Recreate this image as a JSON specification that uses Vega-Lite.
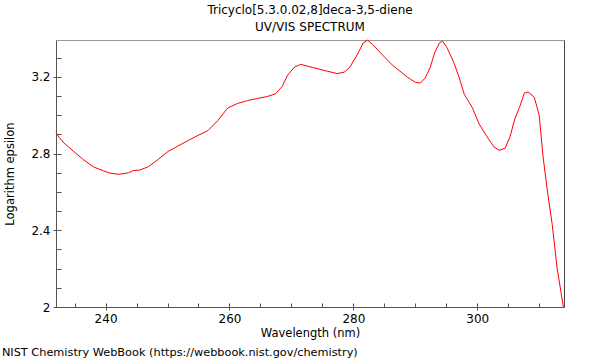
{
  "$schema": "https://vega.github.io/schema/vega-lite/v6.json",
  "background": "white",
  "padding": {"left": 1, "top": 4, "right": 30, "bottom": 2},
  "title": {"text": "NIST Chemistry WebBook (https://webbook.nist.gov/chemistry)", "orient": "bottom", "anchor": "start", "frame": "bounds", "font": "DejaVu Sans", "fontSize": 11.3, "fontWeight": "normal", "color": "black", "offset": 8, "dx": -3},
  "config": {
    "view": {"stroke": null},
    "axis": {"labelFont": "DejaVu Sans", "labelFontSize": 12, "labelColor": "black", "titleFont": "DejaVu Sans", "titleFontSize": 11.5, "titleFontWeight": "normal", "titleColor": "black", "domainColor": "#555", "tickColor": "#555", "grid": false}
  },
  "vconcat": [
    {
      "title": {"text": ["Tricyclo[5.3.0.02,8]deca-3,5-diene", "UV/VIS SPECTRUM"], "anchor": "middle", "frame": "group", "font": "DejaVu Sans", "fontSize": 12, "fontWeight": "normal", "color": "black", "lineHeight": 17, "offset": 4},
      "width": 508,
      "height": 267,
      "data": {"values": [
        {"wavelength": 232.0, "logeps": 2.91},
        {"wavelength": 232.5, "logeps": 2.885},
        {"wavelength": 233.3, "logeps": 2.855},
        {"wavelength": 234.9, "logeps": 2.81},
        {"wavelength": 236.5, "logeps": 2.767},
        {"wavelength": 238.1, "logeps": 2.73},
        {"wavelength": 239.7, "logeps": 2.71},
        {"wavelength": 240.5, "logeps": 2.7},
        {"wavelength": 242.1, "logeps": 2.692},
        {"wavelength": 243.7, "logeps": 2.7},
        {"wavelength": 244.5, "logeps": 2.712},
        {"wavelength": 245.5, "logeps": 2.714},
        {"wavelength": 246.9, "logeps": 2.732},
        {"wavelength": 248.5, "logeps": 2.77},
        {"wavelength": 250.1, "logeps": 2.812},
        {"wavelength": 251.7, "logeps": 2.84},
        {"wavelength": 253.3, "logeps": 2.868},
        {"wavelength": 254.9, "logeps": 2.895},
        {"wavelength": 256.5, "logeps": 2.92},
        {"wavelength": 258.1, "logeps": 2.972},
        {"wavelength": 259.7, "logeps": 3.038},
        {"wavelength": 261.3, "logeps": 3.062},
        {"wavelength": 262.9, "logeps": 3.077},
        {"wavelength": 264.5, "logeps": 3.088},
        {"wavelength": 266.1, "logeps": 3.098},
        {"wavelength": 267.4, "logeps": 3.112},
        {"wavelength": 268.5, "logeps": 3.15},
        {"wavelength": 269.4, "logeps": 3.21},
        {"wavelength": 270.5, "logeps": 3.252},
        {"wavelength": 271.5, "logeps": 3.266},
        {"wavelength": 273.4, "logeps": 3.25},
        {"wavelength": 275.8, "logeps": 3.23},
        {"wavelength": 277.4, "logeps": 3.218},
        {"wavelength": 278.5, "logeps": 3.225},
        {"wavelength": 279.4, "logeps": 3.25},
        {"wavelength": 280.6, "logeps": 3.315},
        {"wavelength": 281.6, "logeps": 3.378},
        {"wavelength": 282.3, "logeps": 3.392},
        {"wavelength": 283.1, "logeps": 3.37},
        {"wavelength": 284.7, "logeps": 3.315},
        {"wavelength": 286.3, "logeps": 3.262},
        {"wavelength": 288.7, "logeps": 3.2},
        {"wavelength": 290.0, "logeps": 3.172},
        {"wavelength": 290.8, "logeps": 3.168},
        {"wavelength": 291.6, "logeps": 3.195},
        {"wavelength": 292.4, "logeps": 3.25},
        {"wavelength": 293.1, "logeps": 3.325},
        {"wavelength": 293.9, "logeps": 3.378},
        {"wavelength": 294.4, "logeps": 3.387},
        {"wavelength": 295.0, "logeps": 3.36},
        {"wavelength": 295.6, "logeps": 3.32},
        {"wavelength": 296.3, "logeps": 3.268},
        {"wavelength": 297.1, "logeps": 3.195},
        {"wavelength": 297.9, "logeps": 3.11},
        {"wavelength": 299.2, "logeps": 3.04},
        {"wavelength": 300.3, "logeps": 2.955},
        {"wavelength": 301.6, "logeps": 2.887},
        {"wavelength": 302.7, "logeps": 2.835},
        {"wavelength": 303.5, "logeps": 2.818},
        {"wavelength": 304.5, "logeps": 2.828},
        {"wavelength": 305.3, "logeps": 2.89},
        {"wavelength": 306.1, "logeps": 2.985},
        {"wavelength": 306.8, "logeps": 3.04},
        {"wavelength": 307.6, "logeps": 3.116},
        {"wavelength": 308.2, "logeps": 3.122},
        {"wavelength": 309.2, "logeps": 3.095},
        {"wavelength": 310.0, "logeps": 3.0},
        {"wavelength": 310.6, "logeps": 2.79},
        {"wavelength": 311.3, "logeps": 2.61},
        {"wavelength": 312.1, "logeps": 2.43},
        {"wavelength": 312.9, "logeps": 2.2},
        {"wavelength": 313.9, "logeps": 2.0}
      ]},
      "resolve": {"axis": {"x": "independent", "y": "independent"}},
      "layer": [
        {
          "mark": {"type": "line", "opacity": 0},
          "encoding": {
            "x": {"field": "wavelength", "type": "quantitative", "scale": {"domain": [232, 314], "nice": false, "zero": false},
                  "axis": {"orient": "top", "labels": false, "ticks": false, "title": null, "domainColor": "#999"}},
            "y": {"field": "logeps", "type": "quantitative", "scale": {"domain": [2, 3.393], "nice": false, "zero": false},
                  "axis": {"orient": "right", "labels": false, "ticks": false, "title": null, "domainColor": "#444"}}
          }
        },
        {
          "mark": {"type": "line", "opacity": 0},
          "encoding": {
            "x": {"field": "wavelength", "type": "quantitative",
                  "axis": {"orient": "bottom", "values": [235, 240, 245, 250, 255, 260, 265, 270, 275, 280, 285, 290, 295, 300, 305, 310], "tickSize": -4, "labels": false, "domain": false, "title": null}},
            "y": {"field": "logeps", "type": "quantitative",
                  "axis": {"orient": "left", "values": [2, 2.1, 2.2, 2.3, 2.4, 2.5, 2.6, 2.7, 2.8, 2.9, 3.0, 3.1, 3.2, 3.3], "tickSize": -5, "labels": false, "domain": false, "title": null}}
          }
        },
        {
          "mark": {"type": "line", "color": "#ff0000", "strokeWidth": 1},
          "encoding": {
            "x": {"field": "wavelength", "type": "quantitative",
                  "axis": {"orient": "bottom", "values": [240, 260, 280, 300], "tickSize": 3, "labelPadding": 3, "title": "Wavelength (nm)", "titlePadding": 3}},
            "y": {"field": "logeps", "type": "quantitative",
                  "axis": {"orient": "left", "values": [2, 2.4, 2.8, 3.2], "format": "~g", "tickSize": 3, "labelPadding": 3, "title": "Logarithm epsilon", "titlePadding": 15}}
          }
        }
      ]
    }
  ]
}
